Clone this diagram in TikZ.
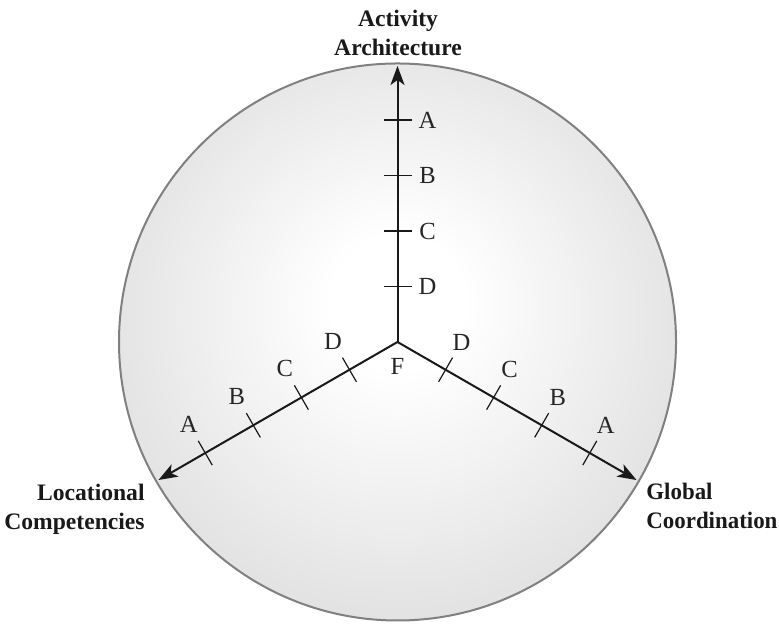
\documentclass[tikz,border=0pt]{standalone}
\usepackage{fontspec}
\setmainfont{Liberation Serif}
\usetikzlibrary{arrows.meta,calc}
\pgfdeclareradialshading{ballshade}{\pgfpoint{0bp}{4bp}}{color(0bp)=(white); color(6bp)=(white); color(50bp)=(black!24)}
\begin{document}
\begin{tikzpicture}[x=0.5pt,y=0.5pt,
  axisline/.style={line width=1pt, draw=black!90, -{Stealth[length=9.5pt,width=7pt,inset=2.5pt]}},
  tickmark/.style={line width=0.6pt, draw=black!90},
  ticklab/.style={font=\fontsize{12.3}{14}\selectfont, text=black!85, inner sep=0pt},
  ttl/.style={font=\fontsize{11.8}{14.5}\selectfont\bfseries, text=black!90, inner sep=0pt},
  ball/.style={draw=black!50, line width=1pt, shading=ballshade}]
\useasboundingbox (0,0) rectangle (779,624);
\coordinate (O) at (397.5,282);
\coordinate (T) at (397.5,558);
\coordinate (L) at (158.5,144);
\coordinate (R) at (636.5,144);
\path[ball] (O) circle[radius=278.5];
% axes
\draw[axisline] (O) -- (T);
\draw[axisline] (O) -- (L);
\draw[axisline] (O) -- (R);
% ticks and labels
\begin{scope}[shift={(O)},rotate=90]
  \foreach \d/\l in {55.5/D,111/C,166.5/B,222/A}{
    \draw[tickmark] (\d,-14) -- (\d,14);
    \node[ticklab] (v\l) at (\d,-30) {\l};
  }
\end{scope}
\begin{scope}[shift={(O)},rotate=210]
  \foreach \d/\l in {55.5/D,111/C,166.5/B,222/A}{
    \draw[tickmark] (\d,-14) -- (\d,14);
    \node[ticklab] (l\l) at (\d,-33) {\l};
  }
\end{scope}
\begin{scope}[shift={(O)},rotate=330]
  \foreach \d/\l in {55.5/D,111/C,166.5/B,222/A}{
    \draw[tickmark] (\d,-14) -- (\d,14);
    \node[ticklab] (r\l) at (\d,32) {\l};
  }
\end{scope}
\node[ticklab] (F) at (397.5,258) {F};
% titles
\node[ttl, align=center, anchor=north] (top) at (398,614) {Activity\\Architecture};
\node[ttl, align=right, anchor=north east] (left) at (145,140) {Locational\\Competencies};
\node[ttl, font=\fontsize{11.8}{14.5}\selectfont\bfseries\addfontfeature{FakeStretch=0.97}, align=left, anchor=north west] (right) at (646,141) {Global\\Coordination};
\end{tikzpicture}
\end{document}
